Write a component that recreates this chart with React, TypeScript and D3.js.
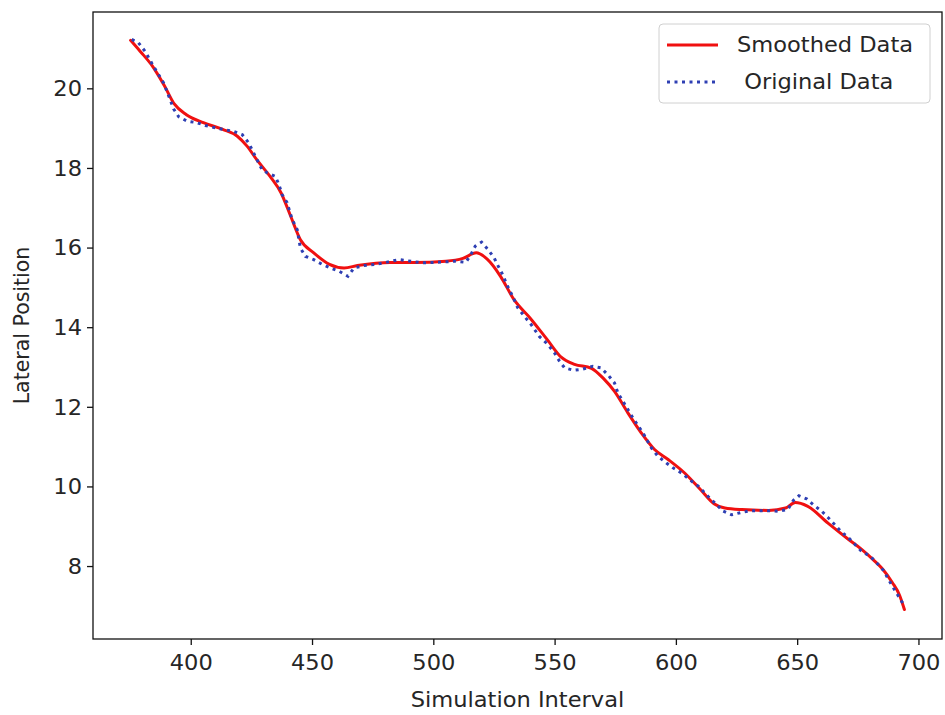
import React from "react";
import * as d3 from "d3";

const smoothX = [375, 379, 384, 389, 393, 398, 405, 413, 419, 423, 427, 432.5, 437, 441, 445, 450.5, 457, 463, 468.5, 482, 492, 505, 512, 517.5, 522, 527.5, 533, 540, 547, 552.5, 558, 565, 570, 574.5, 580, 585.5, 591, 596.6, 603.4, 610, 615.5, 620, 627, 638, 645, 649, 654, 662.5, 671, 676, 681, 685, 689, 692, 694];
const smoothY = [21.22, 20.94, 20.57, 20.07, 19.62, 19.35, 19.15, 18.98, 18.81, 18.56, 18.22, 17.8, 17.39, 16.8, 16.21, 15.88, 15.59, 15.5, 15.56, 15.64, 15.64, 15.67, 15.74, 15.88, 15.72, 15.29, 14.71, 14.22, 13.68, 13.26, 13.08, 12.98, 12.72, 12.4, 11.86, 11.36, 10.94, 10.69, 10.35, 9.93, 9.58, 9.47, 9.43, 9.41, 9.47, 9.61, 9.52, 9.09, 8.68, 8.45, 8.18, 7.94, 7.6, 7.28, 6.92];

const origX = [375.5, 378.2, 381, 384.4, 386.5, 388.6, 391.3, 392.7, 394.8, 398.2, 402.3, 405.8, 409.9, 413.3, 417.5, 421, 423.7, 425.7, 427.1, 429.2, 431.3, 434.7, 436.1, 437.5, 439.5, 441.6, 443.7, 445, 447.1, 450.5, 454, 457.4, 460.9, 464.6, 467.1, 471.2, 475.3, 479.5, 485.7, 495, 500.8, 509, 513.2, 515.3, 517.1, 519.7, 522.4, 524.9, 526.6, 528.4, 530.4, 532.5, 534.6, 537.3, 540.1, 543.5, 547, 549.7, 551.8, 553.9, 557.7, 561.4, 565.6, 569, 572, 574.5, 575.9, 578, 582.1, 586.2, 589.7, 592.4, 595.9, 598.6, 602.1, 605.5, 609, 613.1, 616.5, 619.3, 622.7, 626.9, 630.6, 634, 638.6, 642, 645.9, 648.2, 650.5, 653.7, 656.9, 659.9, 662.7, 667.9, 671, 676.4, 679.9, 682.6, 685.4, 687.5, 689.5, 691.6, 693.7];
const origY = [21.24, 21.16, 20.94, 20.57, 20.36, 20.15, 19.73, 19.5, 19.3, 19.19, 19.15, 19.08, 19.02, 18.98, 18.93, 18.85, 18.64, 18.39, 18.22, 17.97, 17.89, 17.8, 17.6, 17.34, 17.14, 16.72, 16.46, 16.0, 15.79, 15.71, 15.59, 15.5, 15.42, 15.29, 15.5, 15.56, 15.59, 15.63, 15.71, 15.63, 15.64, 15.67, 15.64, 15.84, 16.05, 16.15, 15.96, 15.75, 15.54, 15.33, 15.04, 14.79, 14.5, 14.29, 14.08, 13.78, 13.58, 13.37, 13.16, 12.99, 12.93, 12.96, 13.03, 12.99, 12.8, 12.61, 12.36, 12.15, 11.73, 11.36, 10.98, 10.77, 10.6, 10.48, 10.35, 10.18, 10.02, 9.76, 9.56, 9.39, 9.3, 9.36, 9.4, 9.4, 9.4, 9.39, 9.43, 9.66, 9.78, 9.7, 9.53, 9.39, 9.22, 8.88, 8.72, 8.38, 8.26, 8.09, 7.9, 7.67, 7.46, 7.25, 7.04];

const xTicks = [400, 450, 500, 550, 600, 650, 700];
const yTicks = [8, 10, 12, 14, 16, 18, 20];
const legendLabels = ["Smoothed Data", " Original Data"];

const W = 945;
const H = 715;
const L = 93, R = 942, T = 12, B = 639;
const FONT = "DejaVu Sans, sans-serif";
const TXT = "#262626";
const FS = 20.5;
const SX = 1.1;

function T2(props: { x: number; y: number; anchor?: string; rotate?: boolean; children: React.ReactNode; dy?: string }) {
  const { x, y, anchor, rotate, children, dy } = props;
  const tr = rotate ? `translate(${x},${y}) rotate(-90) scale(1,1)` : `translate(${x},${y}) scale(${SX},1)`;
  return (
    <text transform={tr} textAnchor={anchor || "start"} dy={dy} fontSize={FS} fill={TXT} style={{ whiteSpace: "pre" }}>
      {children}
    </text>
  );
}

export default function App() {
  const x = d3.scaleLinear().domain([359.5, 709.5]).range([L, R]);
  const y = d3.scaleLinear().domain([6.18, 21.93]).range([B, T]);

  const smooth = smoothX.map((v, i) => [v, smoothY[i]] as [number, number]);
  const orig = origX.map((v, i) => [v, origY[i]] as [number, number]);

  const lineS = d3.line<[number, number]>().x(d => x(d[0])).y(d => y(d[1])).curve(d3.curveMonotoneX);
  const lineO = d3.line<[number, number]>().x(d => x(d[0])).y(d => y(d[1])).curve(d3.curveLinear);

  return (
    <svg width={W} height={H} style={{ position: "absolute", left: 0, top: 0, background: "#fff" }} fontFamily={FONT}>
      <rect x={0} y={0} width={W} height={H} fill="#fff" />
      <path d={lineS(smooth) || ""} fill="none" stroke="#f01010" strokeWidth={3} strokeLinejoin="round" strokeLinecap="round" />
      <path d={lineO(orig) || ""} fill="none" stroke="#2e3fb3" strokeWidth={3} strokeDasharray="3,4.5" strokeLinecap="butt" />
      <rect x={L} y={T} width={R - L} height={B - T} fill="none" stroke="#111" strokeWidth={1.3} />
      {xTicks.map(t => (
        <g key={"x" + t}>
          <line x1={x(t)} x2={x(t)} y1={B} y2={B + 6} stroke="#111" strokeWidth={1.3} />
          <T2 x={x(t)} y={B + 31} anchor="middle">{t}</T2>
        </g>
      ))}
      {yTicks.map(t => (
        <g key={"y" + t}>
          <line x1={L - 6} x2={L} y1={y(t)} y2={y(t)} stroke="#111" strokeWidth={1.3} />
          <T2 x={L - 11} y={y(t)} dy="0.36em" anchor="end">{t}</T2>
        </g>
      ))}
      <T2 x={(L + R) / 2} y={707} anchor="middle">Simulation Interval</T2>
      <T2 x={29} y={(T + B) / 2} anchor="middle" rotate>Lateral Position</T2>
      <g>
        <rect x={659} y={24} width={271} height={79} rx={4} fill="#fff" fillOpacity={0.8} stroke="#d0d0d0" strokeWidth={1} />
        <line x1={667} x2={718} y1={45} y2={45} stroke="#f01010" strokeWidth={3} />
        <T2 x={737} y={45} dy="0.36em">{legendLabels[0]}</T2>
        <line x1={667} x2={718} y1={82} y2={82} stroke="#2e3fb3" strokeWidth={3} strokeDasharray="3,4.5" />
        <T2 x={737} y={82} dy="0.36em">{legendLabels[1]}</T2>
      </g>
    </svg>
  );
}
